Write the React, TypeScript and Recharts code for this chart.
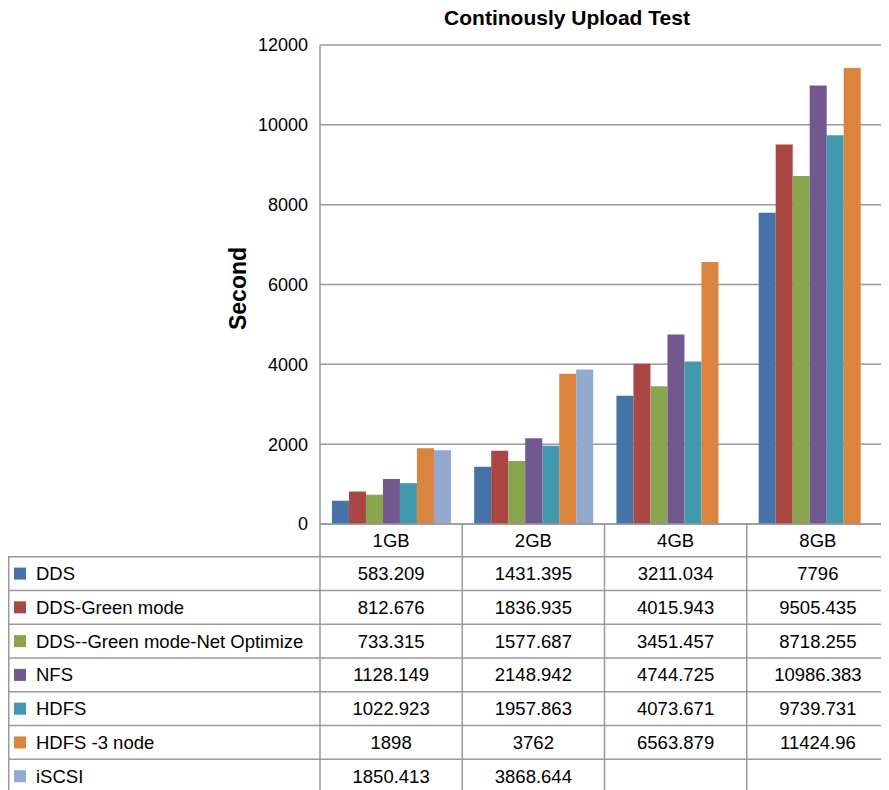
import { BarChart, Bar, XAxis, YAxis, CartesianGrid } from 'recharts';

const categories = ['1GB', '2GB', '4GB', '8GB'];
const ddsValues = [583.209, 1431.395, 3211.034, 7796];
const ddsGreenValues = [812.676, 1836.935, 4015.943, 9505.435];
const ddsNetValues = [733.315, 1577.687, 3451.457, 8718.255];
const nfsValues = [1128.149, 2148.942, 4744.725, 10986.383];
const hdfsValues = [1022.923, 1957.863, 4073.671, 9739.731];
const hdfs3Values = [1898, 3762, 6563.879, 11424.96];
const iscsiValues = [1850.413, 3868.644, null, null];
const yTicks = [0, 2000, 4000, 6000, 8000, 10000, 12000];

const series = [
  { key: 'dds', name: 'DDS', color: '#4572A7', values: ddsValues },
  { key: 'ddsGreen', name: 'DDS-Green mode', color: '#AA4643', values: ddsGreenValues },
  { key: 'ddsNet', name: 'DDS--Green mode-Net Optimize', color: '#89A54E', values: ddsNetValues },
  { key: 'nfs', name: 'NFS', color: '#71588F', values: nfsValues },
  { key: 'hdfs', name: 'HDFS', color: '#4198AF', values: hdfsValues },
  { key: 'hdfs3', name: 'HDFS -3 node', color: '#DB843D', values: hdfs3Values },
  { key: 'iscsi', name: 'iSCSI', color: '#93A9CF', values: iscsiValues },
];

const data = categories.map((name, i) => {
  const row: Record<string, string | number | null> = { name };
  series.forEach((s) => {
    row[s.key] = s.values[i];
  });
  return row;
});

const CHART_W = 881;
const CHART_H = 782;
const MARGIN = { top: 37, right: 0, bottom: 0, left: 0 };
const Y_AXIS_W = 312;
const X_AXIS_H = CHART_H - MARGIN.top - 479;
const BAND = (CHART_W - Y_AXIS_W - MARGIN.right) / categories.length;
const HEADER_H = 32.7;
const ROW_H = 33.77;
const FONT = "'Liberation Sans', Arial, Helvetica, sans-serif";
const LINE = '#999';

// data table under the plot: one column per category tick, legend column on the first
const TableColumn = (props: any) => {
  const { x, y, payload, index } = props;
  const left = x - BAND / 2;
  const right = x + BAND / 2;
  const rowsTop = y + HEADER_H;
  const bottom = rowsTop + ROW_H * series.length;
  return (
    <g fontFamily={FONT} fontSize={18.5} fill="#000">
      <text x={x} y={y + HEADER_H / 2 + 6.5} textAnchor="middle">
        {payload.value}
      </text>
      <line x1={right} y1={y} x2={right} y2={bottom} stroke={LINE} strokeWidth={1.5} />
      {series.map((s, r) => {
        const top = rowsTop + r * ROW_H;
        const v = s.values[index];
        return (
          <g key={s.key}>
            <line x1={left} y1={top} x2={right} y2={top} stroke={LINE} strokeWidth={1.5} />
            {v != null && (
              <text x={x} y={top + ROW_H / 2 + 6.5} textAnchor="middle">
                {String(v)}
              </text>
            )}
          </g>
        );
      })}
      <line x1={left} y1={bottom} x2={right} y2={bottom} stroke={LINE} strokeWidth={1.5} />
      {index === 0 && (
        <g>
          <line x1={left} y1={y} x2={left} y2={bottom} stroke={LINE} strokeWidth={1.5} />
          <line x1={0.75} y1={rowsTop} x2={0.75} y2={bottom} stroke={LINE} strokeWidth={1.5} />
          {series.map((s, r) => {
            const top = rowsTop + r * ROW_H;
            return (
              <g key={s.key}>
                <line x1={0} y1={top} x2={left} y2={top} stroke={LINE} strokeWidth={1.5} />
                <rect x={6} y={top + ROW_H / 2 - 6} width={12} height={12} fill={s.color} />
                <text x={28} y={top + ROW_H / 2 + 6.5} textAnchor="start">
                  {s.name}
                </text>
              </g>
            );
          })}
          <line x1={0} y1={bottom} x2={left} y2={bottom} stroke={LINE} strokeWidth={1.5} />
        </g>
      )}
    </g>
  );
};

const SecondLabel = (props: any) => {
  const { viewBox } = props;
  const cy = viewBox.y + viewBox.height / 2 + 4;
  const cx = 230;
  return (
    <text
      x={cx}
      y={cy}
      transform={`rotate(-90, ${cx}, ${cy})`}
      textAnchor="middle"
      dominantBaseline="central"
      fontFamily={FONT}
      fontSize={23}
      fontWeight="bold"
      fill="#000"
    >
      Second
    </text>
  );
};

export default function App() {
  return (
    <div style={{ position: 'relative', width: CHART_W, height: CHART_H, background: '#fff' }}>
      <style>{'html,body{overflow:hidden;background:#fff}'}</style>
      <div
        style={{
          position: 'absolute',
          left: 559,
          top: -2,
          transform: 'translateX(-50%)',
          fontFamily: FONT,
          fontSize: 21,
          fontWeight: 'bold',
          lineHeight: '24px',
          whiteSpace: 'nowrap',
          color: '#000',
        }}
      >
        Continously Upload Test
      </div>
      <BarChart
        width={CHART_W}
        height={CHART_H}
        data={data}
        margin={MARGIN}
        barCategoryGap="8.4%"
        barGap={0}
      >
        <CartesianGrid vertical={false} stroke={LINE} strokeWidth={1.5} />
        <YAxis
          width={Y_AXIS_W}
          domain={[0, 12000]}
          ticks={yTicks}
          interval={0}
          tickLine={false}
          tickSize={0}
          tickMargin={12}
          axisLine={{ stroke: LINE, strokeWidth: 1.5 }}
          tick={{ fill: '#000', fontSize: 18, fontFamily: FONT }}
          label={<SecondLabel />}
        />
        <XAxis
          dataKey="name"
          height={X_AXIS_H}
          interval={0}
          tickLine={false}
          tickSize={0}
          tickMargin={0}
          axisLine={{ stroke: LINE, strokeWidth: 1.5 }}
          tick={<TableColumn />}
        />
        {series.map((s) => (
          <Bar key={s.key} dataKey={s.key} name={s.name} fill={s.color} isAnimationActive={false} />
        ))}
      </BarChart>
    </div>
  );
}
